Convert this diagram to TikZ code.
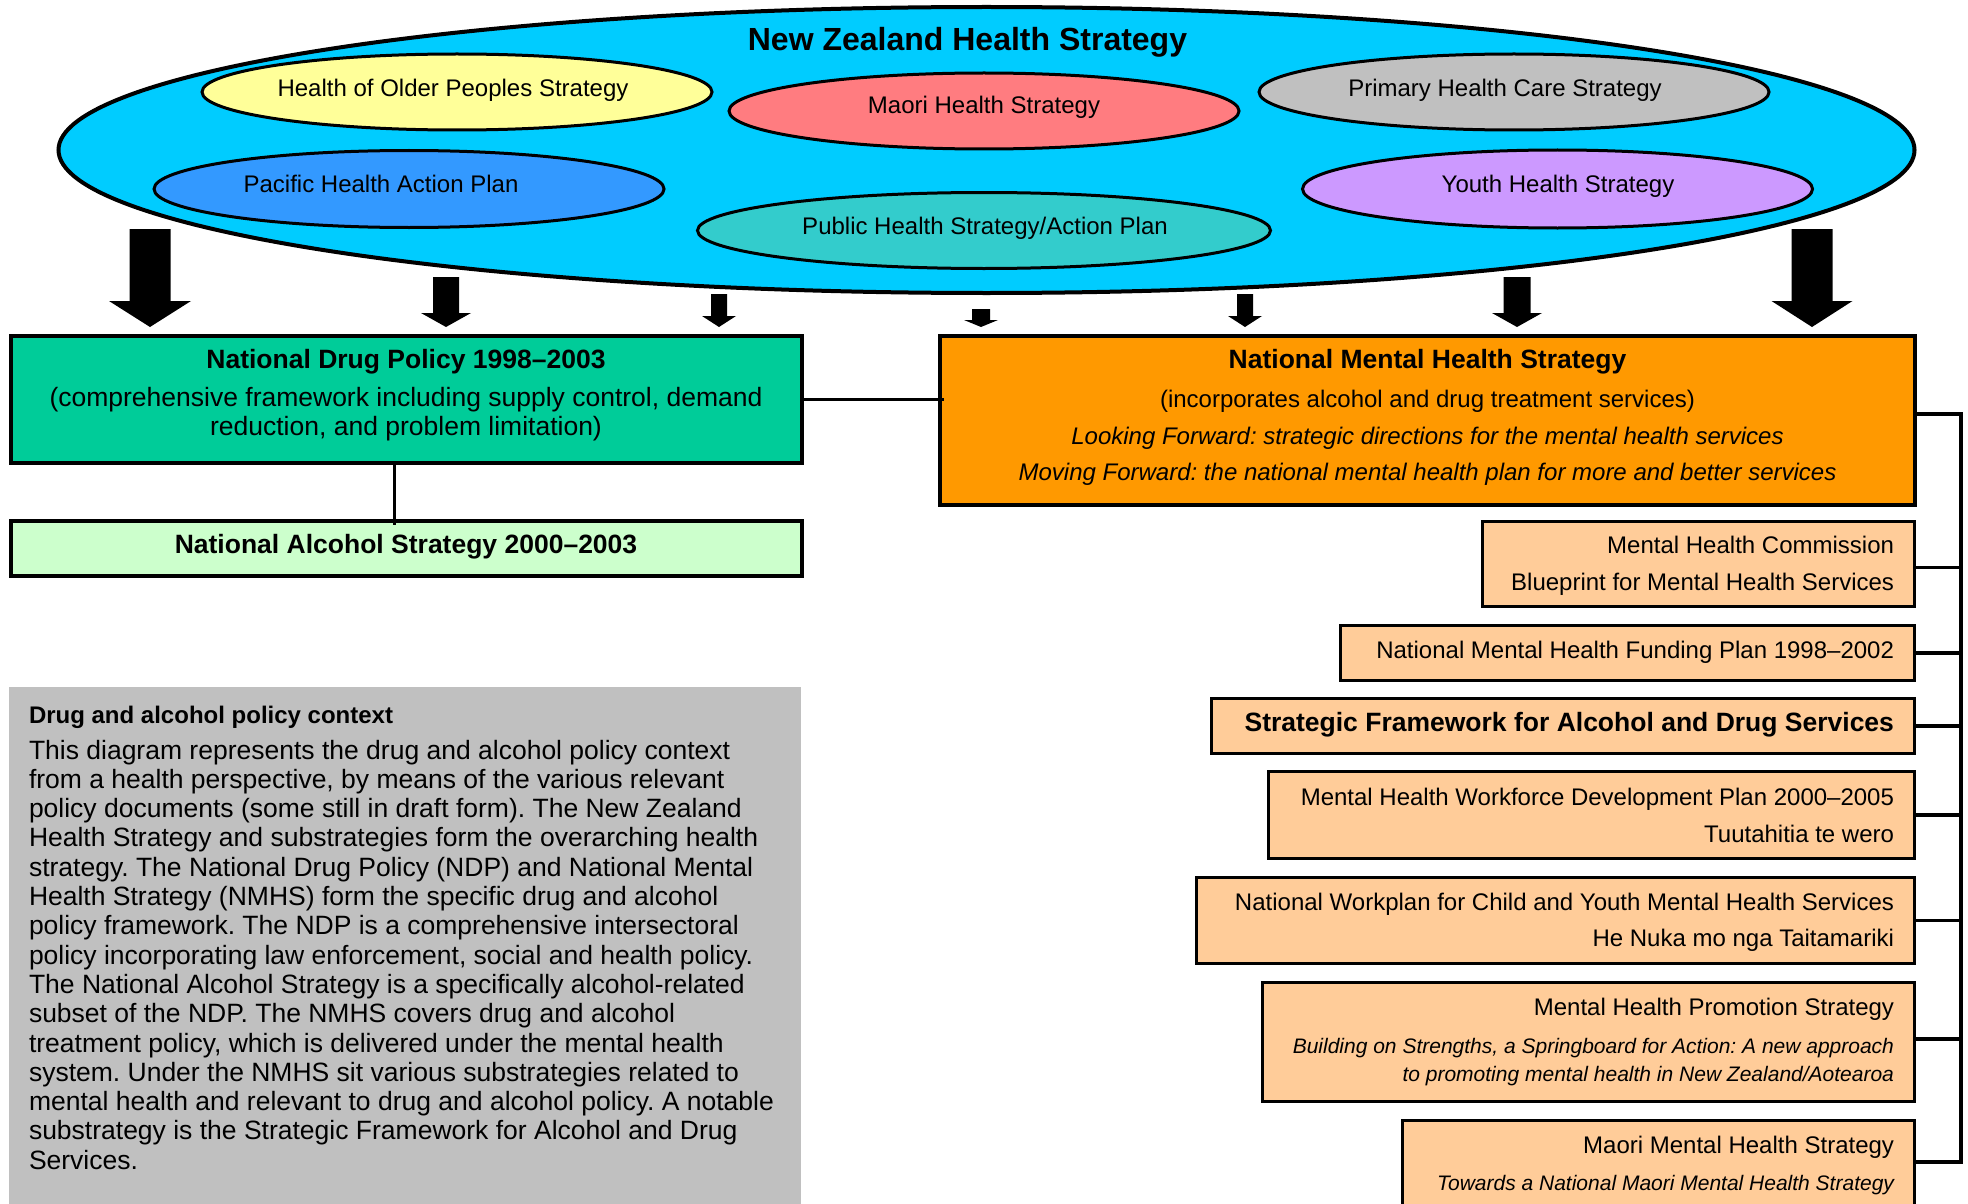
\documentclass[tikz,border=0pt]{standalone}
\usepackage{fontspec}
\setmainfont{Liberation Sans}
\usetikzlibrary{shapes.geometric}
\definecolor{cBig}{HTML}{00CCFF}
\definecolor{cOlder}{HTML}{FFFF99}
\definecolor{cMaori}{HTML}{FF7C80}
\definecolor{cPrimary}{HTML}{C0C0C0}
\definecolor{cPacific}{HTML}{3399FF}
\definecolor{cPublic}{HTML}{33CCCC}
\definecolor{cYouth}{HTML}{CC99FF}
\definecolor{cNDP}{HTML}{00CC99}
\definecolor{cNAS}{HTML}{CCFFCC}
\definecolor{cNMHS}{HTML}{FF9900}
\definecolor{cSub}{HTML}{FFCC99}
\definecolor{cGray}{HTML}{C0C0C0}
\newcommand\blkarrow[6]{%
  \fill[black] (#1-#5,#2) -- (#1+#5,#2) -- (#1+#5,#3) -- (#1+#6,#3) -- (#1,#4) -- (#1-#6,#3) -- (#1-#5,#3) -- cycle;}
\frenchspacing
\begin{document}
\begin{tikzpicture}[x=1pt,y=-1pt,
  ell/.style={ellipse, draw=black, line width=3pt, inner sep=0pt},
  box/.style={rectangle, draw=black, line width=3pt, inner sep=0pt, anchor=north west},
  thickbox/.style={box, line width=4pt},
  conn/.style={draw=black, line width=3.5pt},
  txt/.style={inner sep=0pt, outer sep=0pt, text=black},
  tE/.style={txt, font=\fontsize{24}{28}\selectfont},
  tEi/.style={txt, font=\fontsize{21}{25}\selectfont\itshape},
  tB/.style={txt, font=\fontsize{26.5}{30}\selectfont\bfseries},
  tR/.style={txt, font=\fontsize{26.5}{30}\selectfont},
  tI/.style={txt, font=\fontsize{24}{28}\selectfont\itshape},
]
\useasboundingbox (0,0) rectangle (1968,1204);
\clip (0,0) rectangle (1968,1204);
\fill[white] (0,0) rectangle (1968,1204);

% ---- big ellipse and sub-ellipses
\node[ell, line width=4pt, fill=cBig, minimum width=1856pt, minimum height=286pt] (nzhs) at (986.5,150) {};
\node[txt, anchor=base, font=\fontsize{32}{36}\selectfont\bfseries] (nzhsT) at (967.5,51) {New Zealand Health Strategy};

\node[ell, fill=cOlder, minimum width=510pt, minimum height=76pt] (older) at (457,92) {};
\node[ell, fill=cMaori, minimum width=510pt, minimum height=76pt] (maoriE) at (984,111) {};
\node[ell, fill=cPrimary, minimum width=510pt, minimum height=76pt] (primary) at (1514,92) {};
\node[ell, fill=cPacific, minimum width=510pt, minimum height=77pt] (pacific) at (409,189) {};
\node[ell, fill=cPublic, minimum width=573pt, minimum height=76pt] (public) at (984,230.5) {};
\node[ell, fill=cYouth, minimum width=510pt, minimum height=78pt] (youth) at (1557.5,189) {};

\node[tE, anchor=base] (olderT) at (453,97) {Health of Older Peoples Strategy};
\node[tE, anchor=base] (maoriT) at (984,114) {Maori Health Strategy};
\node[tE, anchor=base] (primaryT) at (1505,97) {Primary Health Care Strategy};
\node[tE, anchor=base] (pacificT) at (381,193) {Pacific Health Action Plan};
\node[tE, anchor=base] (youthT) at (1558,193) {Youth Health Strategy};
\node[tE, anchor=base] (publicT) at (985,234) {Public Health Strategy/Action Plan};

% ---- block arrows
\blkarrow{150}{229}{301}{327}{20.5}{41}
\blkarrow{446}{277}{313}{327}{13}{25}
\blkarrow{719}{294}{316}{327}{8}{17}
\blkarrow{981}{309}{320}{327}{9}{17}
\blkarrow{1245}{294}{316}{327}{8}{17}
\blkarrow{1517}{277}{313}{327}{13.5}{25}
\blkarrow{1812}{229}{301}{327}{20.5}{40.5}

% ---- left boxes
\node[thickbox, fill=cNDP, minimum width=791pt, minimum height=127pt] (ndp) at (9,334) {};
\node[tB, anchor=base] (ndpT1) at (406,368) {National Drug Policy 1998–2003};
\node[tR, anchor=base] (ndpT2) at (406,406) {(comprehensive framework including supply control, demand};
\node[tR, anchor=base] (ndpT3) at (406,435) {reduction, and problem limitation)};

\node[thickbox, fill=cNAS, minimum width=791pt, minimum height=55pt] (nas) at (9,519) {};
\node[tB, anchor=base] (nasT) at (406,553) {National Alcohol Strategy 2000–2003};

\draw[conn, line width=3pt] ([xshift=-12pt]ndp.south) -- ([xshift=-12pt,yshift=-6pt]nas.north);

% ---- NMHS
\node[thickbox, fill=cNMHS, minimum width=975pt, minimum height=169pt] (nmhs) at (938,334) {};
\node[tB, anchor=base] (nmhsT1) at (1427.5,368) {National Mental Health Strategy};
\node[tE, anchor=base] (nmhsT2) at (1427.5,407) {(incorporates alcohol and drug treatment services)};
\node[tI, anchor=base] (nmhsT3) at (1427.5,444) {Looking Forward: strategic directions for the mental health services};
\node[tI, anchor=base] (nmhsT4) at (1427.5,480.5) {Moving Forward: the national mental health plan for more and better services};

\draw[conn, line width=3pt] (ndp.east) -- ([xshift=6pt]ndp.east -| nmhs.west);

% ---- sub boxes
\node[box, fill=cSub, minimum width=432pt, minimum height=85pt] (mhc) at (1481,520) {};
\node[tE, anchor=base east] (mhcT1) at (1894,553) {Mental Health Commission};
\node[tE, anchor=base east] (mhcT2) at (1894,590.5) {Blueprint for Mental Health Services};

\node[box, fill=cSub, minimum width=574pt, minimum height=55pt] (fund) at (1339,624) {};
\node[tE, anchor=base east] (fundT) at (1894,658.5) {National Mental Health Funding Plan 1998–2002};

\node[box, fill=cSub, minimum width=703pt, minimum height=55pt] (sf) at (1210,697) {};
\node[tB, anchor=base east] (sfT) at (1894,731) {Strategic Framework for Alcohol and Drug Services};

\node[box, fill=cSub, minimum width=646pt, minimum height=87pt] (wf) at (1267,770) {};
\node[tE, anchor=base east] (wfT1) at (1894,805.5) {Mental Health Workforce Development Plan 2000–2005};
\node[tE, anchor=base east] (wfT2) at (1894,842) {Tuutahitia te wero};

\node[box, fill=cSub, minimum width=718pt, minimum height=86pt] (wp) at (1195,876) {};
\node[tE, anchor=base east] (wpT1) at (1894,910) {National Workplan for Child and Youth Mental Health Services};
\node[tE, anchor=base east] (wpT2) at (1894,946.5) {He Nuka mo nga Taitamariki};

\node[box, fill=cSub, minimum width=652pt, minimum height=119pt] (promo) at (1261,981) {};
\node[tE, anchor=base east] (promoT1) at (1894,1015.5) {Mental Health Promotion Strategy};
\node[tEi, anchor=base east] (promoT2) at (1894,1053) {Building on Strengths, a Springboard for Action: A new approach};
\node[tEi, anchor=base east] (promoT3) at (1894,1081.5) {to promoting mental health in New Zealand/Aotearoa};

\node[box, fill=cSub, minimum width=512pt, minimum height=90pt] (mmhs) at (1401,1119) {};
\node[tE, anchor=base east] (mmhsT1) at (1894,1153.5) {Maori Mental Health Strategy};
\node[tEi, anchor=base east] (mmhsT2) at (1894,1190.5) {Towards a National Maori Mental Health Strategy};

% ---- bracket
\coordinate (brk) at (1961,414);
\coordinate (brkEnd) at (1961,1162);
\draw[conn] (nmhs.east |- brk) -- (brk);
\draw[conn] ([yshift=-3.5pt]mhc.east) -- ([yshift=-3.5pt]mhc.east -| brk);
\draw[conn] (fund.east) -- (fund.east -| brk);
\draw[conn] (sf.east) -- (sf.east -| brk);
\draw[conn] (wf.east) -- (wf.east -| brk);
\draw[conn] (wp.east) -- (wp.east -| brk);
\draw[conn] ([yshift=3pt]promo.east) -- ([yshift=3pt]promo.east -| brk);
\draw[conn] (mmhs.east |- brkEnd) -- (brkEnd);
\draw[conn, line cap=rect] (brk) -- (brkEnd);

% ---- context box
\node[rectangle, fill=cGray, inner sep=0pt, anchor=north west, minimum width=792pt, minimum height=530pt] (ctx) at (9,687) {};
\node[txt, anchor=base west, font=\fontsize{24}{28}\selectfont\bfseries] (ctxT) at (29,723) {Drug and alcohol policy context};
\foreach \ln [count=\i] in {
  {This diagram represents the drug and alcohol policy context},
  {from a health perspective, by means of the various relevant},
  {policy documents (some still in draft form). The New Zealand},
  {Health Strategy and substrategies form the overarching health},
  {strategy. The National Drug Policy (NDP) and National Mental},
  {Health Strategy (NMHS) form the specific drug and alcohol},
  {policy framework. The NDP is a comprehensive intersectoral},
  {policy incorporating law enforcement, social and health policy.},
  {The National Alcohol Strategy is a specifically alcohol-related},
  {subset of the NDP. The NMHS covers drug and alcohol},
  {treatment policy, which is delivered under the mental health},
  {system. Under the NMHS sit various substrategies related to},
  {mental health and relevant to drug and alcohol policy. A notable},
  {substrategy is the Strategic Framework for Alcohol and Drug},
  {Services.}}
  \node[tR, anchor=base west] (ctxL\i) at (29,{759+29.3*(\i-1)}) {\ln};
\end{tikzpicture}
\end{document}
